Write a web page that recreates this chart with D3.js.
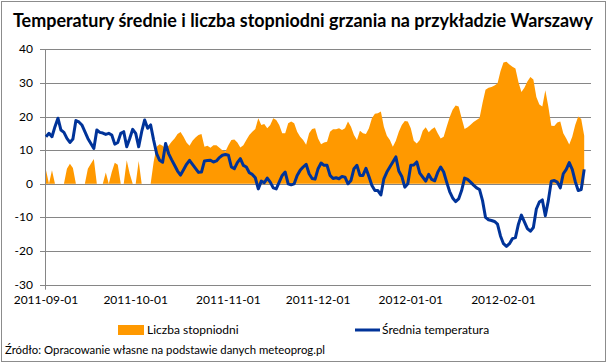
<!DOCTYPE html>
<html>
<head>
<meta charset="utf-8">
<script src="https://cdn.jsdelivr.net/npm/d3@7"></script>
<style>
  body { margin: 0; background: #fff; }
  svg { display: block; font-family: Lato, "Liberation Sans", sans-serif; }
</style>
</head>
<body>
<script>
// daily values, 2011-09-01 .. 2012-02-28
var startDay = "2011-09-01",
    endDay = "2012-02-28";

var temperatura = [
  14, 15, 14, 17, 19.5, 16, 15.3, 13.5, 12.3, 13.3,
  18.8, 18.4, 17.5, 15.5, 13.5, 12, 10.5, 16, 15.3, 15.1,
  14.7, 15, 14.5, 11.8, 12.3, 15, 15.5, 11, 13.5, 16.2,
  15, 11, 15.5, 19, 16.5, 17.5, 13, 9, 7, 6.4,
  12, 9, 7.2, 5.5, 3.8, 2.6, 4.2, 5.8, 7, 5.8,
  4.6, 3.4, 3.5, 6.8, 6.9, 7, 6.5, 6.8, 7.8, 8.5,
  8.7, 8.5, 5, 4.5, 6.3, 7.5, 5.5, 5, 3.3, 2.8,
  1.8, -1.5, 0.8, 0.3, 1.7, 0.5, -1.2, -1.5, 0.5, 2.5,
  3.5, 0, -0.3, 0, 2.5, 4, 5, 5.8, 3, 1.6,
  1.4, 4.5, 6.2, 5.5, 5.5, 2.5, 1.6, 1.8, 1.5, 2.2,
  2, 0, 1, 4.5, 5.5, 2.5, 2.5, 4.6, 2.2, -0.5,
  -2, -2, -3.3, 1.5, 3.5, 5, 6.5, 8, 3.8, 2.2,
  -1, 0, 5.5, 5.6, 6.5, 3.2, 2, 0.8, 2.8, 1.3,
  0.9, 3.4, 5, 3.5, 0.5, -2.3, -4.2, -5.3, -4.5, -2,
  1.7, 1.3, 0.5, -0.4, -1.2, -1.7, -5, -10, -10.7, -10.9,
  -11.2, -12, -15.5, -17.8, -18.6, -17.8, -16.3, -16, -12, -9.3,
  -11.3, -13.3, -14.1, -13, -7.5, -5.4, -4.8, -9.5, -5, 0.8,
  1, 0.5, -1.2, 3, 4.3, 6.3, 4.3, 0.7, -2, -1.7, 4.3
];

var stopniodni = [
  4, 0, 4, 0, 0, 0, 0, 4.5, 6, 4.7,
  0, 0, 0, 0, 4.5, 6, 7.4, 0, 0, 0,
  3.4, 0, 3.5, 6.3, 5.7, 0, 0, 7, 3, 0,
  0, 6.8, 0, 0, 0, 0, 6.5, 11, 11.8, 11.3,
  10.5, 11.3, 12.5, 13.5, 14.8, 15.4, 14, 12.3, 11.3, 12.8,
  13.8, 14.5, 14.8, 11, 11.3, 10.7, 11.5, 11.5, 10.7, 10,
  9.6, 11.5, 13, 13.2, 12.3, 10.8, 11.5, 13, 14.5, 15.5,
  16.3, 19.5, 17.5, 17.8, 16.5, 17.5, 19.5, 19, 17.5, 15,
  15, 18, 18.5, 18, 15.5, 14, 13, 11.6, 15, 16.3,
  16.5, 13.5, 11.8, 12.3, 12.5, 15.5, 16.2, 16.2, 16.5, 16,
  16.5, 18.5, 17, 14.5, 13, 15.8, 15, 14.8, 16.5, 19.5,
  20.8, 21, 21.5, 17, 14.3, 13, 11, 12.8, 15.5, 17.5,
  18.7, 18.5, 16.5, 12.8, 12, 13, 15.8, 16.8, 15.3, 16.2,
  16.8, 15, 13.5, 14, 17, 19.8, 22, 23.3, 23, 19.6,
  16.3, 16.8, 17.6, 18.4, 19, 19.6, 24, 28, 28.6, 28.8,
  29.2, 29.8, 33.5, 36.1, 36.3, 35.5, 34.8, 34.3, 30.3, 27.3,
  28.6, 30.4, 31.8, 31, 25.8, 23.6, 23, 27.8, 23, 17.3,
  17.2, 18.2, 18.5, 15, 13.5, 11.7, 14, 17.5, 20, 19.3, 14.3
];

var tickLabels = ["2011-09-01", "2011-10-01", "2011-11-01", "2011-12-01", "2012-01-01", "2012-02-01"];
var yTicks = [-30, -20, -10, 0, 10, 20, 30, 40];

var title = "Temperatury średnie i liczba stopniodni grzania na przykładzie Warszawy";
var seriesNames = ["Liczba stopniodni", "Średnia temperatura"];
var source = "Źródło: Opracowanie własne na podstawie danych meteoprog.pl";

var width = 607,
    height = 363;

var parse = d3.utcParse("%Y-%m-%d");
var days = d3.utcDay.range(parse(startDay), d3.utcDay.offset(parse(endDay), 1));

var svg = d3.select("body")
    .append("svg")
    .attr("width", width)
    .attr("height", height);

//chart border
svg.append("rect")
    .attr("x", 1.5).attr("y", 1.5)
    .attr("width", width - 3).attr("height", height - 3)
    .attr("fill", "#fff")
    .attr("stroke", "#8c8c8c");

var x = d3.scaleUtc()
    .domain([parse(startDay), parse(endDay)])
    .range([46, 584.2]);

var y = d3.scaleLinear()
    .domain([-30, 40])
    .range([284.7, 49.3]);

var plotLeft = 45, plotRight = 591;

//gridlines
svg.selectAll(".grid")
    .data(yTicks)
    .enter()
    .append("line")
    .attr("class", "grid")
    .attr("x1", plotLeft - 5)
    .attr("x2", plotRight)
    .attr("y1", function(d){ return Math.round(y(d)) + 0.5; })
    .attr("y2", function(d){ return Math.round(y(d)) + 0.5; })
    .attr("stroke", "#868686");

//y axis line
svg.append("line")
    .attr("x1", plotLeft + 0.5).attr("x2", plotLeft + 0.5)
    .attr("y1", y(40)).attr("y2", y(-30) + 5)
    .attr("stroke", "#868686");

//y labels
svg.selectAll(".ylab")
    .data(yTicks)
    .enter()
    .append("text")
    .attr("class", "ylab")
    .attr("x", 33)
    .attr("y", function(d){ return y(d) + 4; })
    .attr("text-anchor", "end")
    .attr("font-size", 12)
    .attr("fill", "#000")
    .text(function(d){ return d; });

//x labels
svg.selectAll(".xlab")
    .data(tickLabels)
    .enter()
    .append("text")
    .attr("class", "xlab")
    .attr("x", function(d){ return x(parse(d)); })
    .attr("y", 304)
    .attr("text-anchor", "middle")
    .attr("font-size", 12)
    .text(function(d){ return d; });

//degree days area
var area = d3.area()
    .x(function(d, i){ return x(days[i]); })
    .y0(y(0))
    .y1(function(d){ return y(d); });

svg.append("path")
    .datum(stopniodni)
    .attr("d", area)
    .attr("fill", "#ff9900");

//temperature line
var line = d3.line()
    .x(function(d, i){ return x(days[i]); })
    .y(function(d){ return y(d); });

svg.append("path")
    .datum(temperatura)
    .attr("d", line)
    .attr("fill", "none")
    .attr("stroke", "#003399")
    .attr("stroke-width", 3)
    .attr("stroke-linejoin", "round");

//title
svg.append("text")
    .attr("x", 303)
    .attr("y", 27)
    .attr("text-anchor", "middle")
    .attr("font-size", 18)
    .attr("font-weight", "bold")
    .attr("textLength", 580)
    .attr("lengthAdjust", "spacingAndGlyphs")
    .text(title);

//legend
svg.append("rect")
    .attr("x", 118).attr("y", 325)
    .attr("width", 26).attr("height", 10)
    .attr("fill", "#ff9900");
svg.append("text")
    .attr("x", 147).attr("y", 334)
    .attr("font-size", 12)
    .text(seriesNames[0]);
svg.append("line")
    .attr("x1", 355).attr("x2", 380)
    .attr("y1", 330).attr("y2", 330)
    .attr("stroke", "#003399")
    .attr("stroke-width", 3);
svg.append("text")
    .attr("x", 382).attr("y", 334)
    .attr("font-size", 12)
    .text(seriesNames[1]);

//source
svg.append("text")
    .attr("x", 5).attr("y", 354)
    .attr("font-size", 12)
    .attr("textLength", 320)
    .attr("lengthAdjust", "spacingAndGlyphs")
    .text(source);
</script>
</body>
</html>
